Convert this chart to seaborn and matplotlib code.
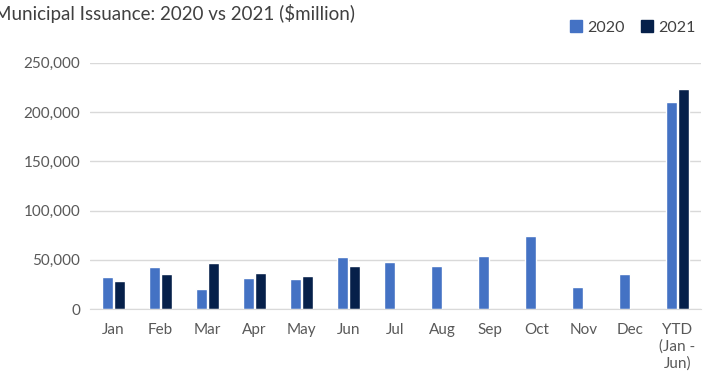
import matplotlib
matplotlib.use("Agg")
import matplotlib.pyplot as plt
import matplotlib.ticker as mticker
import pandas as pd
import seaborn as sns

# values ($ million)
months = ["Jan", "Feb", "Mar", "Apr", "May", "Jun", "Jul", "Aug", "Sep",
          "Oct", "Nov", "Dec", "YTD\n(Jan -\nJun)"]
issuance_2020 = [33000, 42500, 20200, 31700, 31000, 52600, 47900, 43500,
                 54000, 73900, 22000, 35400, 209900]
issuance_2021 = [28300, 36100, 47200, 36400, 33400, 43500, None, None,
                 None, None, None, None, 223100]
years = ["2020", "2021"]
colors = ["#4472C4", "#06204A"]

rows = []
for m, a, b in zip(months, issuance_2020, issuance_2021):
    rows.append({"month": m, "year": "2020", "value": a})
    if b is not None:
        rows.append({"month": m, "year": "2021", "value": b})
df = pd.DataFrame(rows)

sns.set_style("white")
plt.rcParams["font.family"] = ["Lato", "DejaVu Sans"]

fig = plt.figure(figsize=(7.03, 3.85), dpi=100)
ax = fig.add_axes([0.128, 0.197, 0.869, 0.64])

sns.barplot(data=df, x="month", y="value", hue="year", order=months,
            hue_order=years, palette=colors, width=0.52, gap=0.13,
            saturation=1, ax=ax, legend=False)

ax.set_ylim(0, 250000)
ax.set_xlim(-0.5, len(months) - 0.5)
ax.yaxis.set_major_locator(mticker.MultipleLocator(50000))
ax.yaxis.set_major_formatter(mticker.FuncFormatter(lambda v, p: f"{int(v):,}"))
ax.grid(axis="y", color="#D9D9D9", linewidth=1)
ax.set_axisbelow(True)
for s in ["top", "right", "left"]:
    ax.spines[s].set_visible(False)
ax.spines["bottom"].set_color("#D9D9D9")
ax.tick_params(axis="both", length=0, labelsize=11, colors="#595959")
ax.tick_params(axis="x", pad=10)
ax.tick_params(axis="y", pad=7)
ax.set_xlabel("")
ax.set_ylabel("")

fig.text(-0.008, 0.966, "Municipal Issuance: 2020 vs 2021 ($million)",
         fontsize=13.5, color="#404040", va="center", ha="left")

handles = [plt.Rectangle((0, 0), 1, 1, color=c) for c in colors]
fig.legend(handles, years, loc="upper right", bbox_to_anchor=(1.01, 0.985),
           ncol=2, frameon=False, fontsize=11.5, handlelength=0.8,
           handleheight=0.8, handletextpad=0.3, columnspacing=1.0,
           labelcolor="#404040")

fig.savefig("out.png", dpi=100)
